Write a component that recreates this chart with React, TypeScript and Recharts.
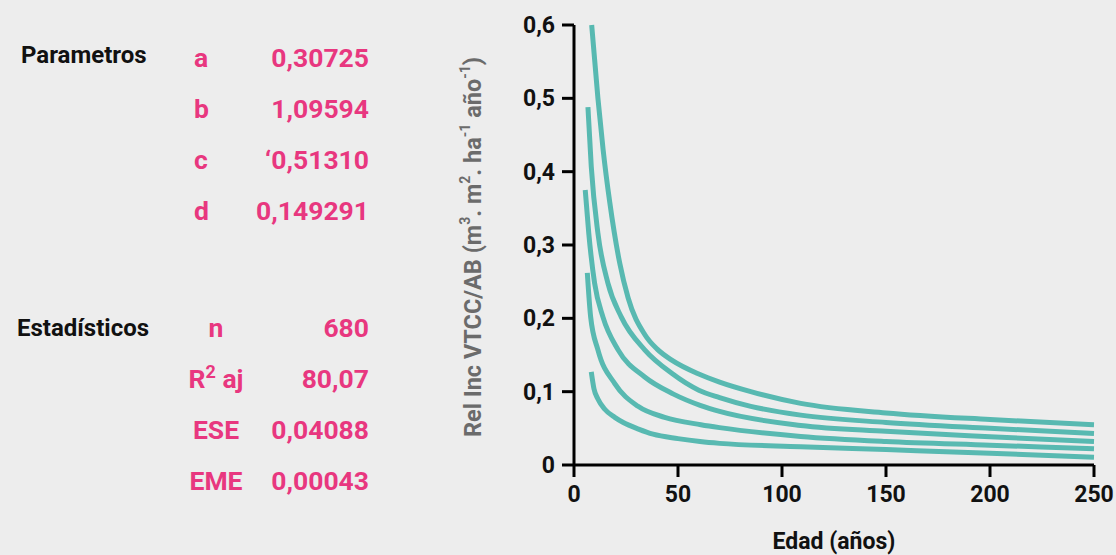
import { LineChart, Line, XAxis, YAxis, Label } from "recharts";

// curves: age (years) and Rel Inc VTCC/AB
const curve1Ages = [8.5, 11.5, 14, 17.2, 22, 26, 34, 40, 47, 60, 70, 85, 109, 150, 200, 250];
const curve1Values = [0.6, 0.5, 0.43, 0.358, 0.275, 0.228, 0.178, 0.158, 0.143, 0.124, 0.113, 0.1, 0.084, 0.071, 0.062, 0.055];

const curve2Ages = [6.7, 8.3, 11.5, 16.3, 22.7, 34, 47, 60, 70, 85, 109, 150, 200, 250];
const curve2Values = [0.488, 0.407, 0.316, 0.248, 0.202, 0.157, 0.125, 0.102, 0.092, 0.08, 0.068, 0.058, 0.05, 0.043];

const curve3Ages = [5.4, 7.1, 9.9, 13.9, 21.2, 34, 47.6, 61, 70, 109, 150, 200, 250];
const curve3Values = [0.375, 0.316, 0.248, 0.202, 0.157, 0.12, 0.097, 0.081, 0.073, 0.054, 0.046, 0.0386, 0.032];

const curve4Ages = [6.4, 8, 11.5, 19.6, 30.8, 43.6, 61, 70, 109, 150, 200, 250];
const curve4Values = [0.262, 0.202, 0.157, 0.111, 0.08, 0.065, 0.055, 0.051, 0.039, 0.032, 0.027, 0.022];

const curve5Ages = [8.3, 9.6, 11.5, 14.8, 19.6, 23.7, 31, 38, 50, 60.6, 70, 109, 150, 200, 250];
const curve5Values = [0.127, 0.104, 0.09, 0.076, 0.065, 0.058, 0.049, 0.042, 0.036, 0.032, 0.0295, 0.025, 0.021, 0.016, 0.0105];

const xTicks = [0, 50, 100, 150, 200, 250];
const yTicks = [0, 0.1, 0.2, 0.3, 0.4, 0.5, 0.6];

const paramNames = ["a", "b", "c", "d"];
const paramValues = ["0,30725", "1,09594", "\u20180,51310", "0,149291"];
const statNames = ["n", "R2 aj", "ESE", "EME"];
const statValues = ["680", "80,07", "0,04088", "0,00043"];

const toPoints = (ages: number[], values: number[]) =>
  ages.map((age, i) => ({ age, value: values[i] }));

const curves = [
  toPoints(curve1Ages, curve1Values),
  toPoints(curve2Ages, curve2Values),
  toPoints(curve3Ages, curve3Values),
  toPoints(curve4Ages, curve4Values),
  toPoints(curve5Ages, curve5Values),
];

const FONT = "Roboto, 'Noto Sans', sans-serif";
const PINK = "#e8377f";
const TEAL = "#58b9b1";
const tickStyle = { fontSize: 23, fontWeight: 700, fill: "#111", fontFamily: FONT };
const axisStroke = { stroke: "#000", strokeWidth: 3 };

const fmtY = (v: number) => (v === 0 ? "0" : v.toFixed(1).replace(".", ","));

function XTitle({ viewBox }: any) {
  const { x, y, width, height } = viewBox;
  return (
    <text x={x + width / 2} y={y + height - 6} textAnchor="middle"
      fontSize={23} fontWeight={700} fill="#111" fontFamily={FONT}>
      Edad (años)
    </text>
  );
}

// superscript pieces drawn with dy so the following text sits right after them
function Sup({ t }: { t: string }) {
  return <tspan fontSize={14} dy={-8}>{t}</tspan>;
}

function YTitle({ viewBox }: any) {
  const { x, y, height } = viewBox;
  const cx = x + 33;
  const cy = y + height / 2 + 2;
  return (
    <text x={cx} y={cy} transform={`rotate(-90, ${cx}, ${cy})`} textAnchor="middle"
      dominantBaseline="central" fontSize={23.5} fontWeight={700} fill="#6b6b6b" fontFamily={FONT}>
      <tspan>Rel Inc VTCC/AB (m</tspan><Sup t="3" /><tspan dy={8}>. m</tspan><Sup t="2" />
      <tspan dy={8}>. ha</tspan><Sup t="-1" /><tspan dy={8}> año</tspan><Sup t="-1" />
      <tspan dy={8}>)</tspan>
    </text>
  );
}

function StatsTable() {
  const labelStyle = { fontSize: 26.5, fontWeight: 700, fill: PINK, fontFamily: FONT };
  const headStyle = { fontSize: 24, fontWeight: 700, fill: "#111", fontFamily: FONT };
  return (
    <svg width={440} height={555} style={{ position: "absolute", left: 0, top: 0 }}>
      <text x={21} y={63} {...headStyle}>Parametros</text>
      {paramNames.map((n, i) => (
        <g key={n}>
          <text x={194} y={67 + 51 * i} {...labelStyle}>{n}</text>
          <text x={369} y={67 + 51 * i} textAnchor="end" {...labelStyle}>{paramValues[i]}</text>
        </g>
      ))}
      <text x={17} y={336} {...headStyle}>Estadísticos</text>
      {statNames.map((n, i) => (
        <g key={n}>
          {n.startsWith("R2") ? (
            <text x={216} y={337 + 51 * i} textAnchor="middle" {...labelStyle}>
              R<tspan fontSize={18} dy={-10}>2</tspan><tspan dy={10}> aj</tspan>
            </text>
          ) : (
            <text x={216} y={337 + 51 * i} textAnchor="middle" {...labelStyle}>{n}</text>
          )}
          <text x={369} y={337 + 51 * i} textAnchor="end" {...labelStyle}>{statValues[i]}</text>
        </g>
      ))}
    </svg>
  );
}

export default function App() {
  return (
    <div style={{ position: "absolute", left: 0, top: 0, width: 1116, height: 555, background: "#ededed", overflow: "hidden" }}>
      <StatsTable />
      <div style={{ position: "absolute", left: 440, top: 0 }}>
        <LineChart width={676} height={555} margin={{ top: 25, right: 22, bottom: 0, left: 0 }}>
          <XAxis type="number" dataKey="age" domain={[0, 250]} ticks={xTicks} height={90}
            tickSize={12} tickMargin={9} axisLine={axisStroke} tickLine={axisStroke} tick={tickStyle}>
            <Label content={<XTitle />} />
          </XAxis>
          <YAxis type="number" domain={[0, 0.6]} ticks={yTicks} width={134} tickFormatter={fmtY}
            tickSize={12} tickMargin={7} axisLine={axisStroke} tickLine={axisStroke} tick={tickStyle}>
            <Label content={<YTitle />} />
          </YAxis>
          {curves.map((d, i) => (
            <Line key={i} data={d} dataKey="value" type="monotone" stroke={TEAL} strokeWidth={5}
              dot={false} activeDot={false} isAnimationActive={false} />
          ))}
        </LineChart>
      </div>
    </div>
  );
}
